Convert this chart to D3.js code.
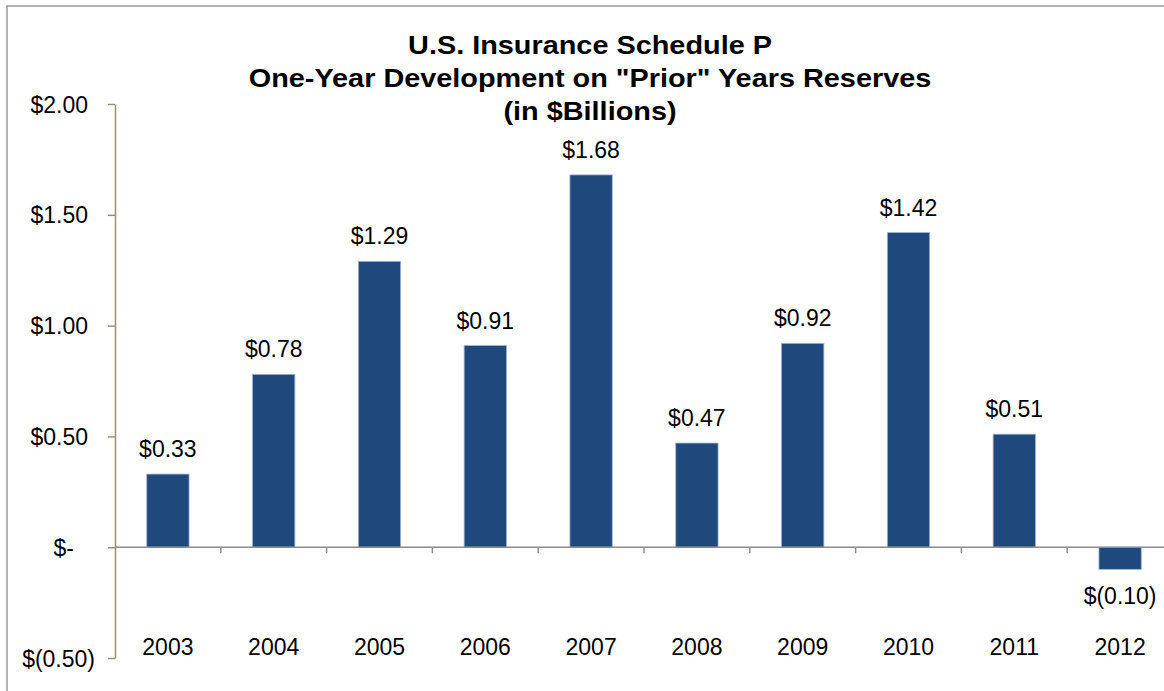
<!DOCTYPE html>
<html>
<head>
<meta charset="utf-8">
<script src="https://cdn.jsdelivr.net/npm/d3@7"></script>
<style>
  body { margin: 0; background: #fff; }
  text { font-family: "Liberation Sans", Arial, sans-serif; fill: #000; }
</style>
</head>
<body>
<div id="chart-area"></div>
<script>
var years = ['2003', '2004', '2005', '2006', '2007', '2008', '2009', '2010', '2011', '2012'];
var values = [0.33, 0.78, 1.29, 0.91, 1.68, 0.47, 0.92, 1.42, 0.51, -0.10];
var yTicks = [-0.5, 0, 0.5, 1.0, 1.5, 2.0];
var titleLines = ['U.S. Insurance Schedule P', 'One-Year Development on "Prior" Years Reserves', '(in $Billions)'];

var W = 1164, H = 691;
var plot = { left: 115, top: 104, bottom: 658, band: 105.8 };

var svg = d3.select('#chart-area').append('svg')
	.attr('width', W)
	.attr('height', H);

// outer frame
svg.append('rect')
	.attr('x', 7).attr('y', 6)
	.attr('width', W + 10).attr('height', H + 10)
	.attr('fill', 'none')
	.attr('stroke', '#9a9a9a')
	.attr('stroke-width', 1.5);

var x = d3.scaleBand().domain(years).range([plot.left, plot.left + plot.band * years.length]);
var y = d3.scaleLinear().domain([-0.5, 2]).range([plot.bottom, plot.top]);

function money(v) {
	if (v === 0) return '$-';
	if (v < 0) return '$(' + d3.format('.2f')(-v) + ')';
	return '$' + d3.format('.2f')(v);
}

// title (source image is a bit stretched sideways)
svg.append('g')
	.attr('transform', 'translate(590, 0) scale(1.11, 1)')
	.selectAll('text').data(titleLines).enter()
	.append('text')
	.attr('x', 0)
	.attr('y', (d, i) => 54 + i * 33)
	.attr('text-anchor', 'middle')
	.attr('font-size', '26px')
	.attr('font-weight', 'bold')
	.text(d => d);

// bars
var barW = x.bandwidth() * 0.4;
svg.append('g').selectAll('rect').data(values).enter()
	.append('rect')
	.attr('x', (d, i) => x(years[i]) + (x.bandwidth() - barW) / 2)
	.attr('y', d => y(Math.max(0, d)))
	.attr('width', barW)
	.attr('height', d => Math.abs(y(d) - y(0)))
	.attr('fill', '#1f497d')
	.attr('stroke', '#9fb3cf')
	.attr('stroke-width', 0.8);

// x axis line and boundary ticks
var xAxis = svg.append('g').attr('transform', `translate(0, ${y(0)})`);
xAxis.append('line')
	.attr('x1', plot.left).attr('x2', W)
	.attr('stroke', '#8c8c8c').attr('stroke-width', 1.5);
xAxis.selectAll('.tick').data(years.slice(1)).enter()
	.append('line')
	.attr('x1', d => x(d)).attr('x2', d => x(d))
	.attr('y1', 0).attr('y2', 6)
	.attr('stroke', '#8c8c8c').attr('stroke-width', 1.5);

// category labels at bottom
var xLabels = d3.axisBottom(x).tickSize(0).tickPadding(0);
var xLab = svg.append('g').attr('transform', `translate(0, ${plot.bottom})`).call(xLabels);
xLab.select('.domain').remove();
xLab.selectAll('text')
	.attr('y', -3).attr('dy', 0)
	.attr('font-size', '23px')
	.attr('font-family', '"Liberation Sans", Arial, sans-serif')
	.attr('fill', '#000');

// y axis
var yAxisCall = d3.axisLeft(y).tickValues(yTicks).tickSize(7).tickSizeOuter(0).tickFormat(money);
var yAxis = svg.append('g').attr('transform', `translate(${plot.left}, 0)`).call(yAxisCall);
yAxis.select('.domain').attr('stroke', '#9c9074').attr('stroke-width', 1.5);
yAxis.selectAll('.tick line').attr('stroke', '#9c9074').attr('stroke-width', 1.5);
yAxis.selectAll('.tick text')
	.attr('font-size', '23px')
	.attr('font-family', '"Liberation Sans", Arial, sans-serif')
	.attr('fill', '#000')
	.attr('x', d => d > 0 ? -27 : (d < 0 ? -20 : -41))
	.attr('dy', '0.35em');

// data labels
svg.append('g').selectAll('text').data(values).enter()
	.append('text')
	.attr('x', (d, i) => x(years[i]) + x.bandwidth() / 2)
	.attr('y', d => d >= 0 ? y(d) - 17 : y(d) + 35)
	.attr('text-anchor', 'middle')
	.attr('font-size', '23px')
	.text(d => money(d));
</script>
</body>
</html>
